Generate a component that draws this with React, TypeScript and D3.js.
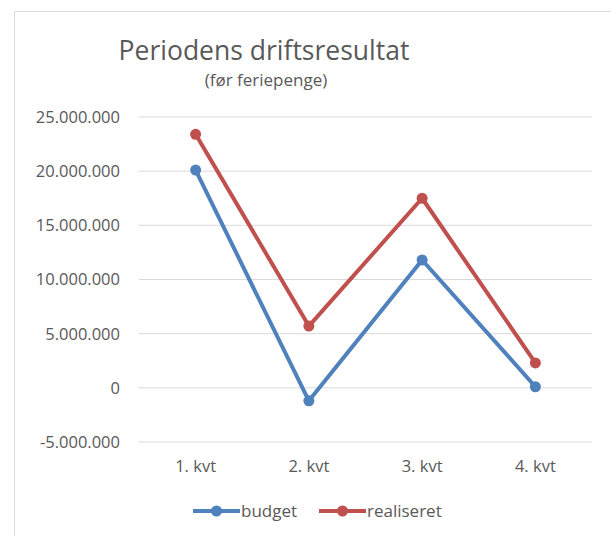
import React from "react";
import * as d3 from "d3";

const categories = ["1. kvt", "2. kvt", "3. kvt", "4. kvt"];
const budget = [20100000, -1200000, 11800000, 100000];
const realiseret = [23400000, 5700000, 17500000, 2300000];
const yTicks = [-5000000, 0, 5000000, 10000000, 15000000, 20000000, 25000000];

const series = [
  { name: "budget", values: budget, color: "#4f81bd" },
  { name: "realiseret", values: realiseret, color: "#c0504d" },
];

const W = 611;
const H = 536;
const font = "Open Sans, Noto Sans, sans-serif";
const textColor = "#595959";

// Norwegian style: dot as thousands separator, plain hyphen for minus
const locale = d3.formatLocale({
  decimal: ",",
  thousands: ".",
  grouping: [3],
  currency: ["", " kr"],
  minus: "-",
});
const fmt = locale.format(",");

export default function App() {
  const x = d3
    .scaleBand<string>()
    .domain(categories)
    .range([139, 592]);
  const y = d3.scaleLinear().domain([-5000000, 25000000]).range([442, 117]);
  const cx = (c: string) => (x(c) ?? 0) + x.bandwidth() / 2;

  const line = d3
    .line<number>()
    .x((_, i) => cx(categories[i]))
    .y((d) => y(d));

  return (
    <svg
      width={W}
      height={H}
      style={{ position: "absolute", left: 0, top: 0, background: "#fff" }}
    >
      {/* chart frame */}
      <path d={`M14.5,${H} V11.5 H${W}`} fill="none" stroke="#d9d9d9" strokeWidth={1} />

      <text x={264} y={60} textAnchor="middle" fontFamily={font} fontSize={26.5} fill={textColor}>
        Periodens driftsresultat
      </text>
      <text x={266} y={86} textAnchor="middle" fontFamily={font} fontSize={17} fill={textColor}>
        (før feriepenge)
      </text>

      {yTicks.map((t) => (
        <g key={t}>
          <line x1={139} x2={592} y1={y(t)} y2={y(t)} stroke="#d9d9d9" strokeWidth={1} />
          <text
            x={120}
            y={y(t)}
            dy="0.36em"
            textAnchor="end"
            fontFamily={font}
            fontSize={16.5}
            fill={textColor}
          >
            {fmt(t)}
          </text>
        </g>
      ))}

      {categories.map((c) => (
        <text
          key={c}
          x={cx(c)}
          y={472}
          textAnchor="middle"
          fontFamily={font}
          fontSize={16.5}
          fill={textColor}
        >
          {c}
        </text>
      ))}

      {series.map((s) => (
        <g key={s.name}>
          <path d={line(s.values) ?? ""} fill="none" stroke={s.color} strokeWidth={4} strokeLinejoin="round" />
          {s.values.map((v, i) => (
            <circle key={i} cx={cx(categories[i])} cy={y(v)} r={5.5} fill={s.color} />
          ))}
        </g>
      ))}

      {/* legend */}
      {series.map((s, i) => {
        const lx = i === 0 ? 193 : 319;
        return (
          <g key={s.name} transform={`translate(${lx},511)`}>
            <line x1={0} x2={47} y1={0} y2={0} stroke={s.color} strokeWidth={4} />
            <circle cx={23.5} cy={0} r={5.5} fill={s.color} />
            <text x={48} y={0} dy="0.36em" fontFamily={font} fontSize={17} fill={textColor}>
              {s.name}
            </text>
          </g>
        );
      })}
    </svg>
  );
}
